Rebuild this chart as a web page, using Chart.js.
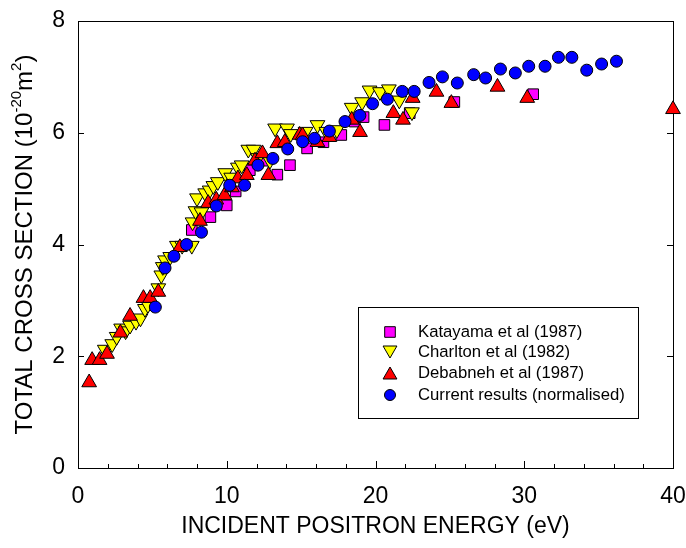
<!DOCTYPE html>
<html>
<head>
<meta charset="utf-8">
<script src="https://cdn.jsdelivr.net/npm/chart.js@4"></script>
<style>
  html, body { margin: 0; padding: 0; background: #fff; }
  #wrap { width: 686px; height: 548px; position: relative; }
</style>
</head>
<body>
<div id="wrap"><canvas id="c" width="686" height="548"></canvas></div>
<script>
// ---- data (energy eV, cross section 1e-20 m^2) ----
const katayamaX = [7.65, 8.9, 10.0, 10.6, 11.55, 12.5, 13.4, 14.25, 15.4, 16.5, 17.7, 18.6, 19.2, 20.6, 22.3, 25.3, 30.6];
const katayamaY = [4.26, 4.49, 4.70, 4.95, 5.33, 5.50, 5.25, 5.42, 5.72, 5.83, 5.96, 6.20, 6.28, 6.14, 6.35, 6.55, 6.69];

const charltonX = [1.8, 2.3, 2.6, 2.9, 3.2, 3.5, 3.9, 4.2, 4.5, 4.7, 5.4, 5.6, 5.7, 5.85, 6.2, 6.65, 7.0, 7.65, 7.7, 7.9, 8.0, 8.3, 8.55, 8.85, 9.1, 9.4, 9.9, 10.3, 10.75, 11.0, 11.45, 11.8, 12.1, 12.9, 13.25, 14.05, 14.3, 15.3, 16.1, 16.7, 17.4, 18.4, 19.1, 19.6, 20.3, 20.9, 21.6, 22.45];
const charltonY = [2.12, 2.22, 2.35, 2.50, 2.45, 2.55, 2.62, 2.68, 2.85, 2.92, 3.22, 3.45, 3.60, 3.72, 3.78, 3.98, 3.98, 3.98, 4.40, 4.60, 4.83, 4.58, 4.92, 4.97, 5.05, 5.12, 5.28, 5.20, 5.38, 5.42, 5.70, 5.70, 5.55, 5.50, 6.08, 6.08, 5.98, 6.02, 6.14, 6.02, 6.05, 6.45, 6.55, 6.76, 6.73, 6.78, 6.58, 6.37];

const debabnehX = [0.75, 0.95, 1.45, 1.95, 2.85, 3.5, 4.4, 4.85, 5.4, 6.85, 8.2, 8.75, 9.3, 9.85, 10.35, 10.75, 11.35, 11.9, 12.4, 12.8, 13.4, 13.9, 14.9, 15.1, 16.1, 16.9, 18.4, 18.96, 21.2, 21.85, 22.5, 24.1, 25.1, 28.2, 30.2, 40.0];
const debabnehY = [1.53, 1.93, 1.93, 2.04, 2.42, 2.72, 3.04, 3.04, 3.15, 3.95, 4.42, 4.74, 4.80, 4.88, 5.02, 5.18, 5.24, 5.50, 5.63, 5.24, 5.81, 5.83, 5.96, 5.95, 5.83, 5.92, 6.23, 6.01, 6.35, 6.23, 6.62, 6.73, 6.53, 6.82, 6.62, 6.42];

const currentX = [5.2, 5.85, 6.45, 7.3, 8.3, 9.3, 10.2, 11.2, 12.1, 13.1, 14.1, 15.1, 15.9, 16.9, 17.95, 18.95, 19.8, 20.8, 21.8, 22.6, 23.6, 24.5, 25.5, 26.6, 27.4, 28.4, 29.4, 30.3, 31.4, 32.3, 33.2, 34.2, 35.2, 36.2];
const currentY = [2.88, 3.58, 3.79, 4.00, 4.22, 4.69, 5.06, 5.06, 5.42, 5.54, 5.71, 5.84, 5.90, 6.03, 6.20, 6.31, 6.52, 6.60, 6.74, 6.74, 6.90, 7.00, 6.89, 7.04, 6.98, 7.14, 7.07, 7.19, 7.19, 7.35, 7.35, 7.12, 7.23, 7.28];

const seriesLabels = ['Katayama et al (1987)', 'Charlton et al (1982)', 'Debabneh et al (1987)', 'Current results (normalised)'];
const xTicksMajor = [0, 10, 20, 30, 40];
const yTicksMajor = [0, 2, 4, 6, 8];

const xTitle = 'INCIDENT POSITRON ENERGY (eV)';
const yTitleParts = [['TOTAL CROSS SECTION (10', false], ['-20', true], ['m', false], ['2', true], [')', false]];

function pts(xs, ys) { return xs.map((x, i) => ({ x: x, y: ys[i] })); }

const FONT = '"Liberation Sans", Arial, sans-serif';

const styles = [
  { bg: '#FF00FF', style: 'rect', r: 7.5, rot: 0, legR: 7.5 },
  { bg: '#FFFF00', style: 'triangle', r: 8.5, rot: 180, legR: 8 },
  { bg: '#FF0000', style: 'triangle', r: 8.5, rot: 0, legR: 8 },
  { bg: '#0000FF', style: 'circle', r: 6, rot: 0, legR: 5.5 }
];
const seriesData = [pts(katayamaX, katayamaY), pts(charltonX, charltonY), pts(debabnehX, debabnehY), pts(currentX, currentY)];
const orders = [3, 2, 1, 0];

const datasets = seriesData.map((d, i) => ({
  label: seriesLabels[i],
  data: d,
  showLine: false,
  pointStyle: styles[i].style,
  pointRotation: styles[i].rot,
  pointRadius: styles[i].r,
  pointHoverRadius: styles[i].r,
  pointBackgroundColor: styles[i].bg,
  pointBorderColor: '#000',
  pointBorderWidth: 1,
  order: orders[i],
  clip: false
}));

function drawMarker(ctx, st, x, y, r) {
  ctx.save();
  ctx.fillStyle = st.bg; ctx.strokeStyle = '#000'; ctx.lineWidth = 1;
  ctx.beginPath();
  if (st.style === 'circle') {
    ctx.arc(x, y, r, 0, Math.PI * 2);
  } else if (st.style === 'rect') {
    const s = r * Math.SQRT1_2;
    ctx.rect(x - s, y - s, 2 * s, 2 * s);
  } else {
    let a = st.rot * Math.PI / 180;
    for (let k = 0; k < 3; k++) {
      const px = x + Math.sin(a) * r, py = y - Math.cos(a) * r;
      if (k === 0) ctx.moveTo(px, py); else ctx.lineTo(px, py);
      a += 2 * Math.PI / 3;
    }
    ctx.closePath();
  }
  ctx.fill(); ctx.stroke();
  ctx.restore();
}

const framePlugin = {
  id: 'frame',
  beforeDatasetsDraw(chart) {
    const { ctx, chartArea: a, scales } = chart;
    ctx.save();
    ctx.strokeStyle = '#000'; ctx.lineWidth = 1;
    ctx.strokeRect(Math.round(a.left) + 0.5, Math.round(a.top) + 0.5, Math.round(a.right - a.left), Math.round(a.bottom - a.top));
    ctx.beginPath();
    for (let v = 0; v <= 40; v += 2) {
      const px = Math.round(scales.x.getPixelForValue(v)) + 0.5;
      const len = (v % 10 === 0) ? 7 : 4;
      ctx.moveTo(px, a.bottom); ctx.lineTo(px, a.bottom - len);
    }
    yTicksMajor.forEach(v => {
      const py = Math.round(scales.y.getPixelForValue(v)) + 0.5;
      ctx.moveTo(a.left, py); ctx.lineTo(a.left + 6, py);
      ctx.moveTo(a.right, py); ctx.lineTo(a.right - 6, py);
    });
    ctx.stroke();
    ctx.restore();
  },
  afterDraw(chart) {
    const { ctx, chartArea: a } = chart;
    ctx.save();
    const bx = 358, by = 307, bw = 280, bh = 111;
    ctx.fillStyle = '#fff';
    ctx.fillRect(bx, by, bw, bh);
    ctx.strokeStyle = '#000'; ctx.lineWidth = 1;
    ctx.strokeRect(bx + 0.5, by + 0.5, bw, bh);
    const rows = [332, 352, 373, 395];
    ctx.font = '16.7px ' + FONT;
    ctx.textBaseline = 'middle';
    ctx.textAlign = 'left';
    seriesLabels.forEach((lab, i) => {
      const st = styles[i];
      let yy = rows[i];
      if (st.style === 'triangle') yy += (st.rot === 0 ? 2 : -2);
      drawMarker(ctx, st, 390, yy, st.legR);
      ctx.fillStyle = '#000';
      ctx.fillText(lab, 418, rows[i]);
    });
    ctx.font = '23px ' + FONT;
    ctx.textAlign = 'center';
    ctx.fillStyle = '#000';
    ctx.fillText(xTitle, (a.left + a.right) / 2, 527);
    const big = '24px ' + FONT, small = '15px ' + FONT;
    let total = 0;
    yTitleParts.forEach(([t, sup]) => { ctx.font = sup ? small : big; total += ctx.measureText(t).width; });
    ctx.translate(25, (a.top + a.bottom) / 2);
    ctx.rotate(-Math.PI / 2);
    ctx.textAlign = 'left';
    let cx = -total / 2;
    yTitleParts.forEach(([t, sup]) => {
      ctx.font = sup ? small : big;
      ctx.fillText(t, cx, sup ? -8 : 0);
      cx += ctx.measureText(t).width;
    });
    ctx.restore();
  }
};

new Chart(document.getElementById('c'), {
  type: 'scatter',
  data: { datasets: datasets },
  options: {
    responsive: false,
    animation: false,
    devicePixelRatio: 1,
    layout: { padding: { top: 21, right: 13, left: 0, bottom: 0 } },
    plugins: { legend: { display: false }, tooltip: { enabled: false } },
    scales: {
      x: {
        type: 'linear', min: 0, max: 40,
        afterBuildTicks(s) { s.ticks = xTicksMajor.map(v => ({ value: v })); },
        afterFit(s) { s.height = 80; s.paddingLeft = 0; s.paddingRight = 0; },
        grid: { display: false, drawTicks: false },
        border: { display: false },
        ticks: { color: '#000', font: { family: FONT, size: 23 }, padding: 15, maxRotation: 0 }
      },
      y: {
        type: 'linear', min: 0, max: 8,
        afterBuildTicks(s) { s.ticks = yTicksMajor.map(v => ({ value: v })); },
        afterFit(s) { s.width = 78; s.paddingTop = 0; s.paddingBottom = 0; },
        grid: { display: false, drawTicks: false },
        border: { display: false },
        ticks: { color: '#000', font: { family: FONT, size: 23 }, padding: 13 }
      }
    }
  },
  plugins: [framePlugin]
});
</script>
</body>
</html>
